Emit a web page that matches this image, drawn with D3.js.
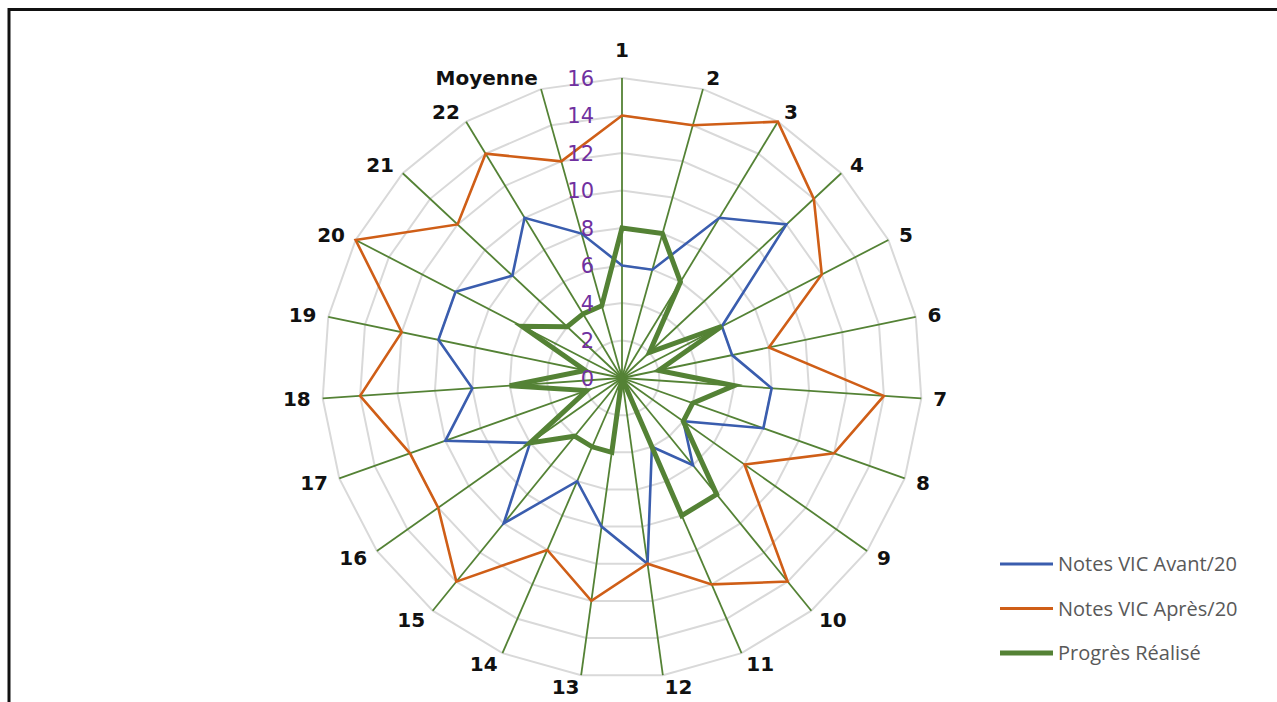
<!DOCTYPE html>
<html>
<head>
<meta charset="utf-8">
<script src="https://cdn.jsdelivr.net/npm/d3@7"></script>
<style>
  html, body { margin: 0; padding: 0; background: #fff; }
  svg { display: block; }
</style>
</head>
<body>
<div id="chart"></div>
<script>
const categories = ['1', '2', '3', '4', '5', '6', '7', '8', '9', '10', '11', '12',
  '13', '14', '15', '16', '17', '18', '19', '20', '21', '22', 'Moyenne'];
const avant = [6, 6, 10, 12, 6, 6, 8, 8, 4, 6, 4, 10, 8, 6, 10, 6, 10, 8, 10, 10, 8, 10, 8];
const apres = [14, 14, 16, 14, 12, 8, 14, 12, 8, 14, 12, 10, 12, 10, 14, 12, 12, 14, 12, 16, 12, 14, 12];
const progres = [8, 8, 6, 2, 6, 2, 6, 4, 4, 8, 8, 0, 4, 4, 4, 6, 2, 6, 2, 6, 4, 4, 4];
const radialTicks = [0, 2, 4, 6, 8, 10, 12, 14, 16];

const series = [
  { name: 'Notes VIC Avant/20', values: avant, color: '#3A5DAE', width: 2.6 },
  { name: 'Notes VIC Après/20', values: apres, color: '#CF5E17', width: 2.6 },
  { name: 'Progrès Réalisé', values: progres, color: '#548235', width: 5 }
];

const width = 1277;
const height = 702;
const cx = 622, cy = 378, R = 300;

const svg = d3.select('#chart').append('svg')
  .attr('width', width)
  .attr('height', height);

// frame
svg.append('rect')
  .attr('x', 9)
  .attr('y', 9.5)
  .attr('width', width + 20)
  .attr('height', height + 20)
  .attr('fill', 'none')
  .attr('stroke', '#111')
  .attr('stroke-width', 3);

const g = svg.append('g')
  .attr('transform', `translate(${cx},${cy})`);

const r = d3.scaleLinear().domain([0, 16]).range([0, R]);
const angle = d3.scalePoint()
  .domain(categories)
  .range([0, 2 * Math.PI * (categories.length - 1) / categories.length]);

const pt = (cat, v) => {
  const a = angle(cat);
  return [r(v) * Math.sin(a), -r(v) * Math.cos(a)];
};

// grid rings
g.append('g')
  .selectAll('path')
  .data(radialTicks.filter(t => t > 0))
  .enter().append('path')
  .attr('d', t => d3.line()(categories.map(c => pt(c, t))) + 'Z')
  .attr('fill', 'none')
  .attr('stroke', '#d9d9d9')
  .attr('stroke-width', 2);

// spokes
g.append('g')
  .selectAll('line')
  .data(categories)
  .enter().append('line')
  .attr('x1', 0)
  .attr('y1', 0)
  .attr('x2', d => pt(d, 16)[0])
  .attr('y2', d => pt(d, 16)[1])
  .attr('stroke', '#548235')
  .attr('stroke-width', 1.8);

// series
const radarLine = d3.lineRadial()
  .angle((d, i) => angle(categories[i]))
  .radius(d => r(d))
  .curve(d3.curveLinearClosed);

g.append('g')
  .selectAll('path')
  .data(series)
  .enter().append('path')
  .attr('d', d => radarLine(d.values))
  .attr('fill', 'none')
  .attr('stroke', d => d.color)
  .attr('stroke-width', d => d.width)
  .attr('stroke-linejoin', 'miter');

// radial tick labels
g.append('g')
  .selectAll('text')
  .data(radialTicks)
  .enter().append('text')
  .attr('x', -28)
  .attr('y', d => -r(d))
  .attr('dy', '0.36em')
  .attr('text-anchor', 'end')
  .style('font-family', 'DejaVu Sans, sans-serif')
  .style('font-size', '21px')
  .style('fill', '#7030A0')
  .text(d => d);

// category labels
g.append('g')
  .selectAll('text')
  .data(categories)
  .enter().append('text')
  .each(function (d) {
    const a = angle(d);
    const s = Math.sin(a), c = Math.cos(a);
    const x = (R + 12) * s;
    let y = -(R + 12) * c;
    let anchor = 'middle';
    if (s > 0.1) anchor = 'start';
    else if (s < -0.1) anchor = 'end';
    if (anchor === 'middle') y -= c * 16;
    d3.select(this)
      .attr('x', x)
      .attr('y', y)
      .attr('dy', '0.36em')
      .attr('text-anchor', anchor);
  })
  .style('font-family', 'DejaVu Sans, sans-serif')
  .style('font-weight', 'bold')
  .style('font-size', '20px')
  .style('fill', '#111')
  .text(d => d);

// legend
const legend = svg.append('g')
  .attr('transform', 'translate(1000,564)');

const legendRows = legend.selectAll('g')
  .data(series)
  .enter().append('g')
  .attr('transform', (d, i) => `translate(0,${i * 44.5})`);

legendRows.append('line')
  .attr('x1', 0)
  .attr('x2', 53)
  .attr('stroke', d => d.color)
  .attr('stroke-width', d => d.width === 5 ? 5 : 3);

legendRows.append('text')
  .attr('x', 58)
  .attr('dy', '0.36em')
  .style('font-family', 'Open Sans, sans-serif')
  .style('font-size', '20px')
  .style('fill', '#595959')
  .text(d => d.name);
</script>
</body>
</html>
